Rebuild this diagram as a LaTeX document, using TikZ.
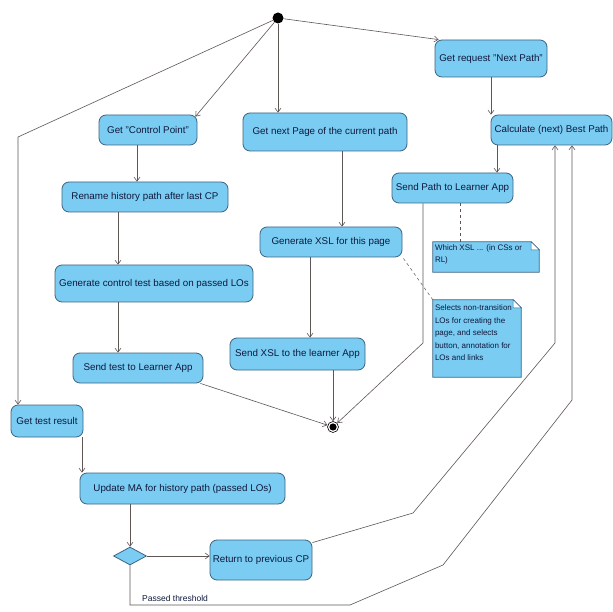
\documentclass[tikz,border=0pt]{standalone}
\usepackage{fontspec}
\setmainfont{Liberation Sans}
\usetikzlibrary{arrows.meta,shapes.geometric,calc}
\definecolor{boxfill}{RGB}{122,204,242}
\definecolor{boxline}{RGB}{62,100,128}
\definecolor{linecol}{RGB}{95,85,85}
\definecolor{txtcol}{RGB}{15,25,60}
\tikzset{
  act/.style={draw=boxline, fill=boxfill, rounded corners=7pt, line width=0.8pt,
    font=\fontsize{9.8}{11}\selectfont, text=txtcol, inner sep=1pt},
  notebox/.style={inner sep=2pt, font=\fontsize{8}{12.5}\selectfont, text=txtcol, align=left},
  flow/.style={draw=linecol, line width=0.6pt, -{Straight Barb[length=4pt,width=6pt]}},
  dashflow/.style={draw=linecol, line width=0.5pt, dashed},
}
\newcommand{\drawnote}[1]{%
  \fill[boxfill] (#1.north west) -- ([xshift=-8pt]#1.north east) -- ([yshift=-8pt]#1.north east) -- (#1.south east) -- (#1.south west) -- cycle;
  \draw[boxline, line width=0.7pt] (#1.north west) -- ([xshift=-8pt]#1.north east) -- ([yshift=-8pt]#1.north east) -- (#1.south east) -- (#1.south west) -- cycle;
  \draw[boxline, line width=0.5pt, fill=white] ([xshift=-8pt]#1.north east) -- ([xshift=-8pt,yshift=-8pt]#1.north east) -- ([yshift=-8pt]#1.north east) -- cycle;
}
\begin{document}
\begin{tikzpicture}[x=1pt,y=-1pt]
\useasboundingbox[fill=white] (0,0) rectangle (613,612);

% initial and final nodes
\node[circle, fill=black, inner sep=0pt, minimum size=11pt] (init) at (278,18) {};
\node[circle, draw=black, fill=white, line width=0.6pt, inner sep=0pt, minimum size=11pt] (final) at (333,427) {};
\fill[black] (final) circle (3.6pt);

% activities
\node[act, minimum width=98pt, minimum height=30pt] (gcp) at (148,130) {Get "Control Point"};
\node[act, minimum width=164pt, minimum height=38pt] (gnp) at (325,132) {Get next Page of the current path};
\node[act, minimum width=112pt, minimum height=37pt] (grn) at (491,58.5) {Get request "Next Path"};
\node[act, minimum width=121pt, minimum height=30pt] (cbp) at (551.5,130) {Calculate (next) Best Path};
\node[act, minimum width=121pt, minimum height=30pt] (spl) at (452.5,188) {Send Path to Learner App};
\node[act, minimum width=166pt, minimum height=30pt] (ren) at (145,197) {Rename history path after last CP};
\node[act, minimum width=198pt, minimum height=37pt] (gct) at (154,283.5) {Generate control test based on passed LOs};
\node[act, minimum width=130pt, minimum height=30pt] (stl) at (138,368) {Send test to Learner App};
\node[act, minimum width=142pt, minimum height=30pt] (gxsl) at (331,242) {Generate XSL for this page};
\node[act, minimum width=135pt, minimum height=32pt] (sxsl) at (297.5,354) {Send XSL to the learner App};
\node[act, minimum width=72pt, minimum height=32pt] (gtr) at (47,421) {Get test result};
\node[act, minimum width=205pt, minimum height=31pt] (uma) at (182.5,488.5) {Update MA for history path (passed LOs)};
\node[act, minimum width=102pt, minimum height=40pt] (rpc) at (261,560) {Return to previous CP};
\node[diamond, draw=boxline, fill=boxfill, line width=0.8pt, inner sep=0pt, minimum width=33pt, minimum height=18pt] (dia) at (130,556) {};

% notes
\node[minimum width=106pt, minimum height=30pt, inner sep=0pt] (note1) at (486,257) {};
\drawnote{note1}
\node[notebox, anchor=north west, font=\fontsize{8}{12}\selectfont] (n1t) at ([xshift=0pt,yshift=-1pt]note1.north west) {Which XSL ... (in CSs or\\RL)};
\node[minimum width=88pt, minimum height=77pt, inner sep=0pt] (note2) at (477,338.5) {};
\drawnote{note2}
\node[notebox, anchor=north west] (n2t) at ([xshift=0pt,yshift=-3pt]note2.north west) {Selects non-transition\\LOs for creating the\\page, and selects\\button, annotation for\\LOs and links};

% bend points
\coordinate (b1) at (18,137);
\coordinate (k1) at (423,343);
\coordinate (k2) at (413,513);
\coordinate (k3) at (555,343);
\coordinate (m1) at (130,605);
\coordinate (m2) at (350,605);
\coordinate (m3) at (443,565);
\coordinate (m4) at (572,400);

% flows from the initial node
\draw[flow] (init) -- (b1) -- (b1 |- gtr.north);
\draw[flow] (init) -- ([xshift=-2pt,yshift=-2pt]gcp.north east);
\draw[flow] (init) -- (init |- gnp.north);
\draw[flow] (init) -- ([xshift=4pt]grn.north west);

% right column
\draw[flow] (grn.south) -- (grn.south |- cbp.north);
\draw[flow] ([xshift=-54.5pt]cbp.south) -- ([xshift=-54.5pt]cbp.south |- spl.north);
\draw[flow] ([xshift=-29.5pt]spl.south) -- (k1) -- (final);
\draw[dashflow] ([xshift=7.5pt]spl.south) -- ([xshift=7.5pt]spl.south |- note1.north);

% middle column
\draw[flow] ([xshift=17pt]gnp.south) -- ([xshift=17pt]gnp.south |- gxsl.north);
\draw[flow] ([xshift=-21pt]gxsl.south) -- ([xshift=-21pt]gxsl.south |- sxsl.north);
\draw[flow] (final |- sxsl.south) -- (final);
\draw[dashflow] ([xshift=1pt,yshift=-1pt]gxsl.south east) -- (note2.north west);

% left column
\draw[flow] ([xshift=-11pt]gcp.south) -- ([xshift=-11pt]gcp.south |- ren.north);
\draw[flow] ([xshift=-27pt]ren.south) -- ([xshift=-27pt]ren.south |- gct.north);
\draw[flow] ([xshift=-36pt]gct.south) -- ([xshift=-36pt]gct.south |- stl.north);
\draw[flow] ([xshift=-3pt]stl.south east) -- (final);

% bottom
\draw[flow] ([xshift=35pt]gtr.south) -- ([xshift=35pt]gtr.south |- uma.north);
\draw[flow] ([xshift=-52.5pt]uma.south) -- (dia.north);
\draw[flow] (dia.east) -- (dia.east -| rpc.west);
\draw[flow] ([yshift=-3pt]rpc.north east) -- (k2) -- (k3) -- (k3 |- cbp.south);
\draw[flow] (dia.south) -- (m1) -- (m2) -- (m3) -- (m4) -- (m4 |- cbp.south);
\node[anchor=south west, inner sep=1pt, font=\fontsize{8.5}{10}\selectfont, text=txtcol] (lbl) at (141,603) {Passed threshold};
\end{tikzpicture}
\end{document}
